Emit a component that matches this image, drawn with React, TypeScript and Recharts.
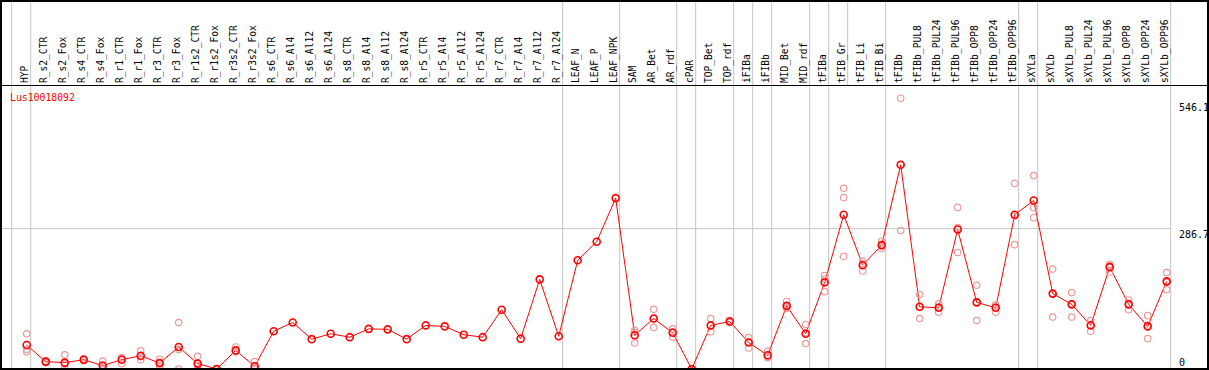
import { ComposedChart, Line, XAxis, YAxis, ReferenceLine } from "recharts";

// sample names along the top
const categories = [
  "HYP",
  "R_s2_CTR", "R_s2_Fox", "R_s4_CTR", "R_s4_Fox", "R_r1_CTR", "R_r1_Fox",
  "R_r3_CTR", "R_r3_Fox", "R_r1s2_CTR", "R_r1s2_Fox", "R_r3s2_CTR", "R_r3s2_Fox",
  "R_s6_CTR", "R_s6_Al4", "R_s6_Al12", "R_s6_Al24",
  "R_s8_CTR", "R_s8_Al4", "R_s8_Al12", "R_s8_Al24",
  "R_r5_CTR", "R_r5_Al4", "R_r5_Al12", "R_r5_Al24",
  "R_r7_CTR", "R_r7_Al4", "R_r7_Al12", "R_r7_Al24",
  "LEAF_N", "LEAF_P", "LEAF_NPK",
  "SAM", "AR_Bet", "AR_rdf", "cPAR", "TOP_Bet", "TOP_rdf", "iFIBa", "iFIBb",
  "MID_Bet", "MID_rdf", "tFIBa", "tFIB_Gr", "tFIB_Li", "tFIB_Bi",
  "tFIBb", "tFIBb_PUL8", "tFIBb_PUL24", "tFIBb_PUL96", "tFIBb_OPP8", "tFIBb_OPP24", "tFIBb_OPP96",
  "sXYLa", "sXYLb", "sXYLb_PUL8", "sXYLb_PUL24", "sXYLb_PUL96", "sXYLb_OPP8", "sXYLb_OPP24", "sXYLb_OPP96",
];

// mean expression per sample
const means = [
  49,
  15, 13, 19, 7, 19, 27, 12, 45, 11, 0, 38, 5.5,
  77, 95, 61, 72,
  65, 82, 81, 61,
  89, 87, 70, 65,
  121, 62, 183, 67,
  222, 260, 349,
  69, 103, 74, 0, 89, 97, 54, 28,
  129, 72, 177, 315, 212, 253,
  417, 127, 125, 285, 136, 125, 315,
  344, 154, 132, 89, 208, 132, 87, 179,
];

// replicates (null = not shown)
const rep1 = [
  72,
  17, 29, 21, 16, 23, 37, 20, 95, 26, 0, 45, 15,
  null, null, null, null, null, null, null, null,
  null, null, null, null, null, null, null, null,
  null, null, null,
  75, 122, 82, null, 103, 99, 64, 36,
  138, 91, 191, 369, 220, 261,
  553, 152, 133, 330, 171, 131, 379,
  395, 204, 156, 99, 214, 141, 109, 197,
];
const rep2 = [
  40,
  13, 0, 17, 0, 11, 19, 4, 0, 0, 0, 35, 0,
  null, null, null, null, null, null, null, null,
  null, null, null, null, null, null, null, null,
  null, null, null,
  53, 85, 65, null, 76, 95, 43, 23,
  124, 52, 158, 230, 200, 246,
  283, 103, 116, 238, 99, 116, 254,
  309, 106, 106, 77, 198, 121, 62, 162,
];
const rep3 = [
  35,
  15, 10, 19, 5, 23, 25, 12, 40, 7, 0, 35, 2,
  null, null, null, null, null, null, null, null,
  null, null, null, null, null, null, null, null,
  null, null, null,
  79, 103, 76, null, 89, 97, 55, 25,
  126, 74, 183, 350, 215, 251,
  417, 126, 127, 289, 137, 127, 312,
  330, 153, 133, 91, 211, 134, 90, 177,
];

const yTicks = [0, 286.7, 546.1];
const gridValue = 286.7;
// group separators drawn just after these sample indexes
const groupEnds = [-1, 0, 28, 31, 34, 35, 37, 38, 39, 41, 42, 45, 52, 53, 60];
const labelOnlyEnds = [43];

const X_DOMAIN: [number, number] = [-1.405, 60.174];
const Y_MAX = 580;
const Y_LABEL_TOP = 754; // value at the very top of the label strip
const SEP_OFFSET = 0.21;

const FONT = "'DejaVu Sans Mono', monospace";

const data = categories.map((name, idx) => ({
  idx,
  name,
  mean: means[idx],
  r1: rep1[idx],
  r2: rep2[idx],
  r3: rep3[idx],
}));

function TopLabel(props: any) {
  const { x, y, payload } = props;
  const bx = x + 1;
  return (
    <text
      x={bx}
      y={y}
      transform={`rotate(-90 ${bx} ${y})`}
      fontSize={9.6}
      fontFamily={FONT}
      fill="#000"
      textAnchor="start"
    >
      {categories[payload.value]}
    </text>
  );
}

function RightTick(props: any) {
  const { x, y, payload } = props;
  const dy = payload.value === 0 ? -3 : 9;
  return (
    <text x={x} y={y + dy} fontSize={10} fontFamily={FONT} fill="#000" textAnchor="start">
      {String(payload.value)}
    </text>
  );
}

const repDot = { r: 3.2, stroke: "#ee9a9a", strokeWidth: 1.2, fill: "none" };

export default function App() {
  return (
    <div style={{ position: "absolute", left: 0, top: 0, width: 1209, height: 370, background: "#fff" }}>
      <ComposedChart width={1209} height={370} data={data} margin={{ top: 0, right: 0, bottom: 1, left: 0 }}>
        <XAxis
          dataKey="idx"
          type="number"
          orientation="top"
          domain={X_DOMAIN}
          ticks={categories.map((_, i) => i)}
          interval={0}
          height={85}
          tickSize={0}
          tickMargin={2}
          axisLine={false}
          tickLine={false}
          tick={<TopLabel />}
        />
        <YAxis
          orientation="right"
          type="number"
          domain={[0, Y_MAX]}
          ticks={yTicks}
          interval={0}
          width={39}
          tickSize={0}
          tickMargin={9}
          axisLine={false}
          tickLine={false}
          tick={<RightTick />}
        />
        <ReferenceLine y={gridValue} stroke="#c4c4c4" strokeWidth={1} />
        {groupEnds.map((g) => (
          <ReferenceLine
            key={`g${g}`}
            ifOverflow="visible"
            segment={[
              { x: g + SEP_OFFSET, y: 0 },
              { x: g + SEP_OFFSET, y: Y_LABEL_TOP },
            ]}
            stroke="#c4c4c4"
            strokeWidth={1}
          />
        ))}
        {labelOnlyEnds.map((g) => (
          <ReferenceLine
            key={`l${g}`}
            ifOverflow="visible"
            segment={[
              { x: g + SEP_OFFSET, y: Y_MAX },
              { x: g + SEP_OFFSET, y: Y_LABEL_TOP },
            ]}
            stroke="#c4c4c4"
            strokeWidth={1}
          />
        ))}
        <Line dataKey="r1" stroke="none" dot={repDot} activeDot={false} isAnimationActive={false} />
        <Line dataKey="r2" stroke="none" dot={repDot} activeDot={false} isAnimationActive={false} />
        <Line dataKey="r3" stroke="none" dot={repDot} activeDot={false} isAnimationActive={false} />
        <Line
          dataKey="mean"
          type="linear"
          stroke="#ff0000"
          strokeWidth={1}
          dot={{ r: 3.5, stroke: "#ff0000", strokeWidth: 1.6, fill: "none" }}
          activeDot={false}
          isAnimationActive={false}
        />
      </ComposedChart>
      <svg
        width={1209}
        height={370}
        style={{ position: "absolute", left: 0, top: 0, pointerEvents: "none" }}
      >
        <rect x={1} y={1} width={1207} height={368} fill="none" stroke="#000" strokeWidth={2} />
        <line x1={0} x2={1209} y1={85.5} y2={85.5} stroke="#000" strokeWidth={1} />
        <text x={10} y={100.5} fontSize={9.8} fontFamily={FONT} fill="#ff0000">
          Lus10018092
        </text>
      </svg>
    </div>
  );
}
